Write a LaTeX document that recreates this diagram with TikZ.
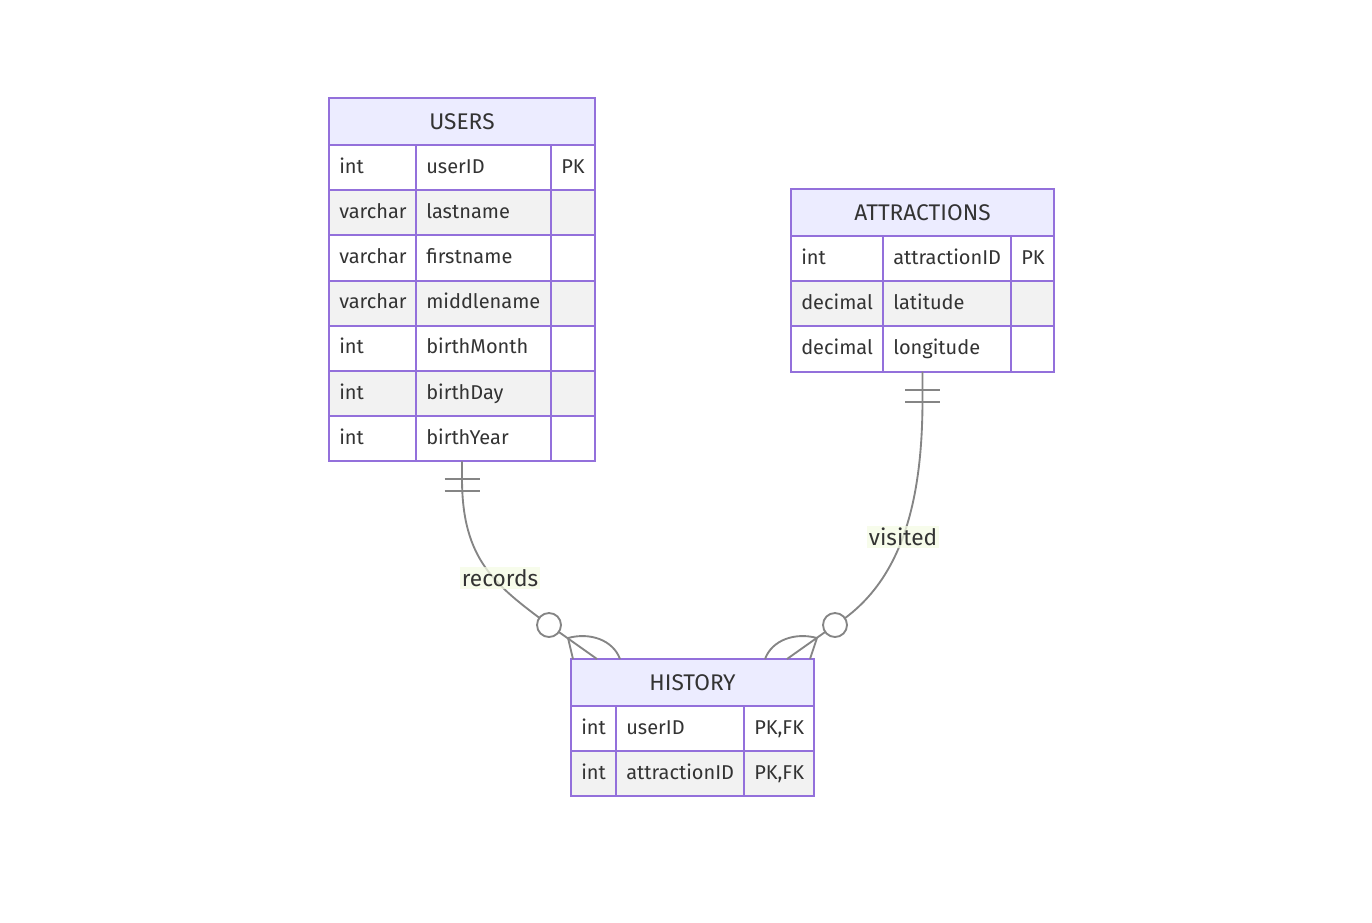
\documentclass[tikz,border=0pt]{standalone}
\usepackage{fontspec}
\setmainfont{Fira Sans}
\definecolor{erborder}{HTML}{9370DB}
\definecolor{erhead}{HTML}{ECECFF}
\definecolor{eralt}{HTML}{F2F2F2}
\definecolor{ertext}{HTML}{333333}
\definecolor{erline}{HTML}{858585}
\definecolor{lblbg}{HTML}{F4FBE4}

% #1 name, #2 title, #3 left, #4 first divider, #5 second divider,
% #6 right, #7 top, #8 number of rows, #9 rows type/name/key
\newcommand{\ertable}[9]{%
  \pgfmathsetmacro\erbot{#7+47+#8*45.2}
  \fill[erhead] (#3,#7) rectangle (#6,#7+47);
  \foreach \ty/\nm/\ky [count=\i] in {#9} {
    \pgfmathsetmacro\rowy{#7+47+(\i-1)*45.2}
    \ifodd\i\def\rowfill{white}\else\def\rowfill{eralt}\fi
    \fill[\rowfill] (#3,\rowy) rectangle (#6,\rowy+45.2);
    \node[cell] (#1-t\i) at (#3+10,\rowy+28) {\ty};
    \node[cell] (#1-n\i) at (#4+10,\rowy+28) {\nm};
    \node[cell] (#1-k\i) at (#5+10,\rowy+28) {\ky};
  }
  \foreach \i in {1,...,#8} {
    \draw[grid] (#3,#7+47+\i*45.2-45.2) -- (#6,#7+47+\i*45.2-45.2);
  }
  \draw[grid] (#4,#7+47) -- (#4,\erbot) (#5,#7+47) -- (#5,\erbot);
  \draw[grid] (#3,#7) rectangle (#6,\erbot);
  \node[title] (#1) at ({(#3+#6)/2},#7+31) {#2};
  \coordinate (#1-s) at ({(#3+#6)/2},\erbot);
}

\begin{document}
\begin{tikzpicture}[x=0.75pt,y=-0.75pt,
  cell/.style={anchor=base west, text=ertext, font=\fontsize{15}{18}\selectfont, inner sep=0pt},
  title/.style={anchor=base, text=ertext, font=\fontsize{17}{20}\selectfont, inner sep=0pt},
  grid/.style={draw=erborder, line width=1.5pt},
  rel/.style={draw=erline, line width=1.4pt},
  ring/.style={circle, draw=erline, line width=1.4pt, fill=white, minimum size=18pt, inner sep=0pt},
  lbl/.style={fill=lblbg, fill opacity=0.75, text opacity=1, text=ertext, font=\fontsize{17}{20}\selectfont, inner sep=1.5pt}]
\useasboundingbox (0,0) rectangle (1372,922);

\ertable{users}{USERS}{329}{416}{551}{595}{98}{7}{int/userID/PK, varchar/lastname/{}, varchar/firstname/{}, varchar/middlename/{}, int/birthMonth/{}, int/birthDay/{}, int/birthYear/{}}
\ertable{attr}{ATTRACTIONS}{791}{883}{1011}{1054}{189}{3}{int/attractionID/PK, decimal/latitude/{}, decimal/longitude/{}}
\ertable{hist}{HISTORY}{571}{616}{744}{814}{659}{2}{int/userID/{PK,FK}, int/attractionID/{PK,FK}}

% attachment points on the HISTORY header
\coordinate (hist-a) at (597,659);
\coordinate (hist-b) at (787,659);
\coordinate (foot-a) at (568,638);
\coordinate (foot-b) at (817,638);

% USERS -> HISTORY
\draw[rel] (users-s) -- ++(0,17) .. controls (462,560) and (495,585) .. (549,625) -- (hist-a);
\draw[rel] (users-s) ++(-17.5,18) -- ++(35,0) (users-s) ++(-17.5,30) -- ++(35,0);
\draw[rel] (foot-a) -- (573,659) (foot-a) .. controls (590,632) and (613,640) .. (620,659);
\node[ring] (ringa) at (549,625) {};
\node[lbl] (records) at (500,578) {records};

% ATTRACTIONS -> HISTORY
\draw[rel] (attr-s) -- ++(0,28) .. controls (922.5,510) and (898,585) .. (835,625) -- (hist-b);
\draw[rel] (attr-s) ++(-17.5,18) -- ++(35,0) (attr-s) ++(-17.5,30) -- ++(35,0);
\draw[rel] (foot-b) -- (810,659) (foot-b) .. controls (795,632) and (772,640) .. (765,659);
\node[ring] (ringb) at (835,625) {};
\node[lbl] (visited) at (903,537) {visited};
\end{tikzpicture}
\end{document}
